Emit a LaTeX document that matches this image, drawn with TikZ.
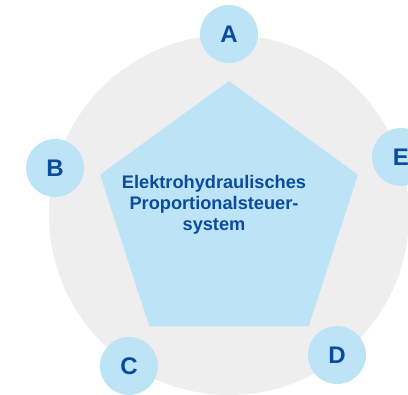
\documentclass[tikz,border=0pt]{standalone}
\usepackage{fontspec}
\setmainfont{Liberation Sans}
\usetikzlibrary{positioning}
\definecolor{ringgray}{RGB}{238,238,238}
\definecolor{paleblue}{RGB}{189,227,247}
\definecolor{darkblue}{RGB}{10,75,158}

\begin{document}
\begin{tikzpicture}[x=1pt,y=1pt,
  letter/.style={circle,fill=paleblue,minimum size=58pt,inner sep=0pt,
    text=darkblue,font=\fontsize{24}{24}\selectfont\bfseries}]
  \useasboundingbox (0,0) rectangle (408,395);
  % draw ring
  \fill[ringgray] (229,180) circle (180);
  % draw pentagon
  \fill[paleblue,shift={(229,178.4)}] (90:135.6) -- (162:135.6) -- (234:135.6)
        -- (306:135.6) -- (18:135.6) -- cycle;
  % draw label
  \node[text=darkblue,font=\fontsize{18.2}{21}\selectfont\bfseries,align=center]
        (title) at (214,190) {Elektrohydraulisches\\Proportionalsteuer-\\system};
  % draw letter circles
  \node[letter] (a) at (229,361) {A};
  \node[letter] (b) at (55,227)  {B};
  \node[letter] (c) at (129,29)  {C};
  \node[letter] (d) at (337,40)  {D};
  \node[letter] (e) at (401,238) {E};
\end{tikzpicture}
\end{document}
